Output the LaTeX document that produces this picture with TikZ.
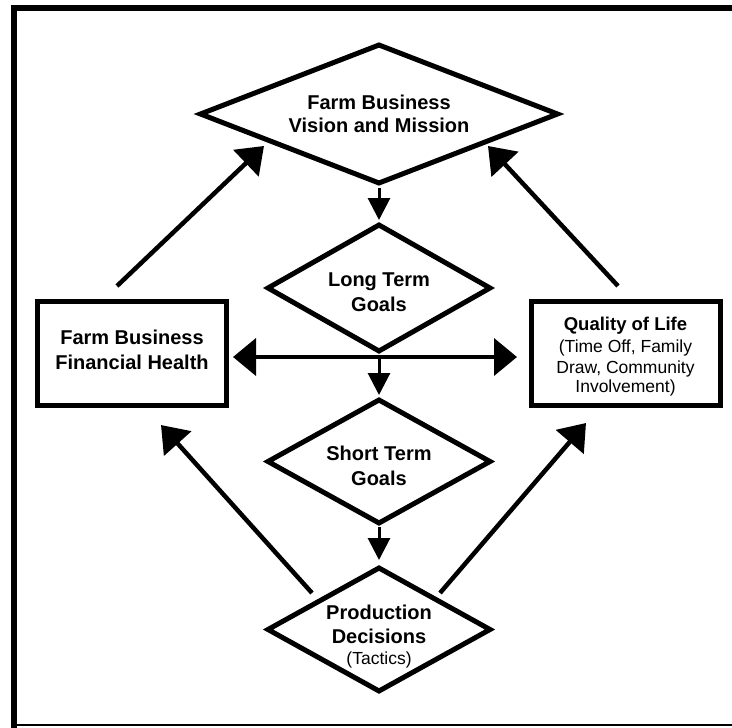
\documentclass[tikz,border=0pt]{standalone}
\usepackage{fontspec}
\setmainfont{Liberation Sans}
\usetikzlibrary{arrows.meta,shapes.geometric,calc}
\newcommand\mainlab{\fontsize{20}{25}\selectfont\bfseries}
\newcommand\sublab{\fontsize{17.5}{21}\selectfont\mdseries}
\begin{document}
\begin{tikzpicture}[x=1pt,y=-1pt,
  dia/.style={diamond,draw,line width=5pt,inner sep=0pt,outer sep=0pt},
  lab/.style={align=center,font=\mainlab,inner sep=0pt},
  boxnode/.style={rectangle,draw,line width=5pt,inner sep=0pt,outer sep=0pt,
                  minimum width=189pt,minimum height=104pt},
  small/.style={line width=3pt,-{Triangle[length=22pt,width=22pt]}},
  big/.style={line width=4.5pt,-{Triangle[length=25pt,width=36pt]}},
  bigboth/.style={line width=4pt,{Triangle[length=23pt,width=37pt]}-{Triangle[length=23pt,width=37pt]}},
  frame/.style={line cap=butt}]
\useasboundingbox (0,0) rectangle (732,728);
\clip (0,0) rectangle (732,728);
% frame (open to the right)
\draw[frame,line width=6pt] (11,8) -- (740,8);
\draw[frame,line width=5.5pt] (14,5) -- (14,740);
\draw[frame,line width=2pt] (14,725) -- (740,725);

% diamonds
\node[dia,minimum width=357pt,minimum height=138pt,
  label={[lab,name=visionlab]center:Farm Business\\[-2pt]Vision and Mission}] (vision) at (379,114) {};
\node[dia,minimum width=222pt,minimum height=126pt,
  label={[lab,name=ltlab,yshift=-4.5pt]center:Long Term\\Goals}] (lt) at (379,288) {};
\node[dia,minimum width=222pt,minimum height=123pt,
  label={[lab,name=stlab,yshift=-4pt]center:Short Term\\Goals}] (st) at (379,461.5) {};
\node[dia,minimum width=222pt,minimum height=123pt,
  label={[lab,name=pdlab,yshift=-7.5pt]center:Production\\[-1pt]Decisions\\[-4pt]{\sublab (Tactics)}}] (pd) at (379,629.5) {};

% boxes
\node[boxnode,label={[lab,name=finlab,yshift=4pt]center:Farm Business\\Financial Health}] (fin) at (132,353.5) {};
\node[boxnode,label={[lab,font=\sublab,name=qollab,yshift=-3.5pt]center:{\fontsize{18.5}{22}\selectfont\bfseries Quality of Life}\\[1pt](Time Off, Family\\Draw, Community\\[-2pt]Involvement)}] (qol) at (625.5,353.5) {};

% vertical arrows
\draw[small,shorten <=5pt,shorten >=5pt] (vision.south) -- (lt.north);
\draw[small,shorten <=7pt,shorten >=5pt] (lt.south) -- (st.north);
\draw[small,shorten <=4pt,shorten >=8pt] (st.south) -- (pd.north);

% horizontal double arrow
\draw[bigboth] ($(fin.east)+(6.5,3.5)$) -- ($(qol.west)+(-14,3.5)$);

% diagonal arrows
\coordinate (ulA) at ($(fin.north)+(-15,-15.5)$);
\coordinate (ulB) at ($(vision.center)+(-115,32)$);
\coordinate (urA) at ($(qol.north)+(-7.5,-15.5)$);
\coordinate (urB) at ($(vision.center)+(109,32)$);
\coordinate (llA) at ($(pd.center)+(-67,-36.5)$);
\coordinate (llB) at ($(fin.south)+(29,19.5)$);
\coordinate (lrA) at ($(pd.center)+(61,-36.5)$);
\coordinate (lrB) at ($(qol.south)+(-39.5,17.5)$);
\draw[big] (ulA) -- (ulB);
\draw[big] (urA) -- (urB);
\draw[big] (llA) -- (llB);
\draw[big] (lrA) -- (lrB);
\end{tikzpicture}
\end{document}
